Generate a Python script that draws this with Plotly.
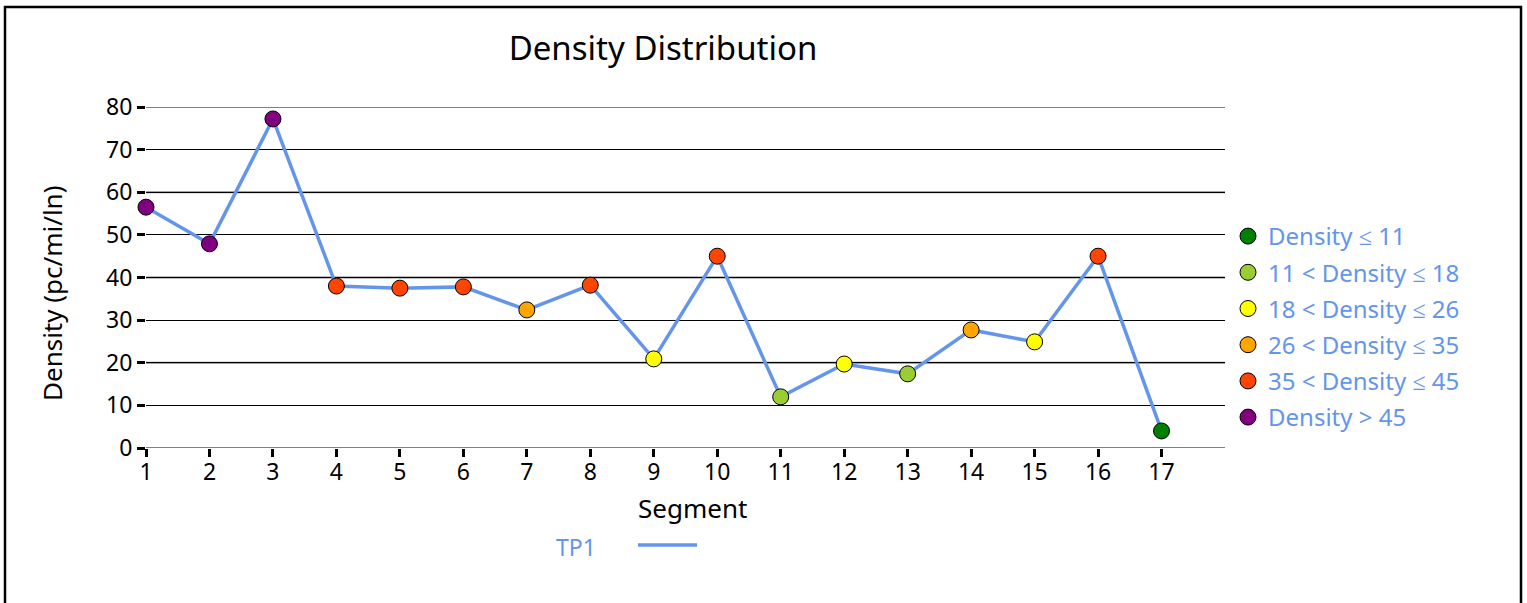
import plotly.graph_objects as go

segments = list(range(1, 18))
density = [56.5, 47.9, 77.2, 38.0, 37.5, 37.8, 32.4, 38.2, 20.9, 45.0, 12.0, 19.7, 17.4, 27.7, 24.9, 45.0, 4.0]
y_ticks = [0, 10, 20, 30, 40, 50, 60, 70, 80]
gray_grid = [0, 20, 40, 60, 80]

class_labels = ["Density \u2264 11", "11 < Density \u2264 18", "18 < Density \u2264 26",
                "26 < Density \u2264 35", "35 < Density \u2264 45", "Density > 45"]
class_upper = [11, 18, 26, 35, 45, 1e9]
class_colors = ["#008000", "#9ACD32", "#FFFF00", "#FFA500", "#FF4500", "#800080"]

def color_for(v):
    for up, c in zip(class_upper, class_colors):
        if v <= up:
            return c
    return class_colors[-1]

FONT = "Noto Sans"
BLUE = "#6495ED"
L, R, T, B = 146, 1225, 107, 448  # plot area in page px
PW, PH = R - L, B - T

def px(xp):
    return (xp - L) / PW

def py(yp):
    return (B - yp) / PH

fig = go.Figure()
fig.add_trace(go.Scatter(
    x=segments, y=density, mode="lines+markers",
    line=dict(color=BLUE, width=3.5),
    marker=dict(size=16, color=[color_for(v) for v in density],
                line=dict(color="black", width=1)),
    cliponaxis=False, showlegend=False, name="TP1"))

for lab, col in zip(class_labels, class_colors):
    fig.add_trace(go.Scatter(
        x=[None], y=[None], mode="markers", name=lab, legendgroup=lab,
        marker=dict(size=16, color=col, line=dict(color="black", width=1))))

shapes = []
for g in gray_grid:
    shapes.append(dict(type="line", xref="paper", x0=0, x1=1, yref="y", y0=g, y1=g,
                       line=dict(color="#808080", width=2), layer="between"))
# outer border
shapes.append(dict(type="rect", xref="paper", yref="paper",
                   x0=px(5), x1=px(1521), y0=py(700), y1=py(7),
                   line=dict(color="black", width=2.5), fillcolor="rgba(0,0,0,0)"))
# TP1 line legend swatch
shapes.append(dict(type="line", xref="paper", yref="paper",
                   x0=px(638), x1=px(697), y0=py(545), y1=py(545),
                   line=dict(color=BLUE, width=3.5)))

fig.update_layout(
    width=1527, height=603,
    margin=dict(l=L, r=1527 - R, t=T, b=603 - B),
    paper_bgcolor="white", plot_bgcolor="white",
    font=dict(family=FONT, size=24, color="black"),
    title=dict(text="Density Distribution", x=px(663), xref="paper",
               xanchor="center", y=1 - 48 / 603, yanchor="middle",
               font=dict(size=33, color="black", family=FONT)),
    xaxis=dict(range=[1, 18], tickvals=segments, ticks="outside", ticklen=8, tickwidth=3,
               tickcolor="black", showgrid=False, zeroline=False, showline=False,
               tickfont=dict(size=23), ticklabelstandoff=-5),
    yaxis=dict(range=[0, 80], tickvals=y_ticks, ticks="outside", ticklen=8, tickwidth=3,
               tickcolor="black", showgrid=True, gridcolor="black", gridwidth=1,
               zeroline=False, showline=False, tickfont=dict(size=23)),
    legend=dict(x=px(1228), xanchor="left", y=py(327), yanchor="middle",
                font=dict(size=24, color=BLUE), traceorder="grouped", tracegroupgap=2,
                bgcolor="rgba(0,0,0,0)", itemwidth=30),
    shapes=shapes,
    annotations=[
        dict(text="TP1", xref="paper", yref="paper", x=px(598), xanchor="right",
             y=py(547), yanchor="middle", showarrow=False,
             font=dict(size=23, color=BLUE, family=FONT)),
        dict(text="Segment", xref="paper", yref="paper", x=px(692), xanchor="center",
             y=py(508), yanchor="middle", showarrow=False,
             font=dict(size=26, color="black", family=FONT)),
        dict(text="Density (pc/mi/ln)", xref="paper", yref="paper", x=px(52), xanchor="center",
             y=py(293), yanchor="middle", showarrow=False, textangle=-90,
             font=dict(size=26, color="black", family=FONT)),
    ],
)

fig.write_html("out.html", config={"displayModeBar": False},
               post_script="document.body.style.margin='0px';")
